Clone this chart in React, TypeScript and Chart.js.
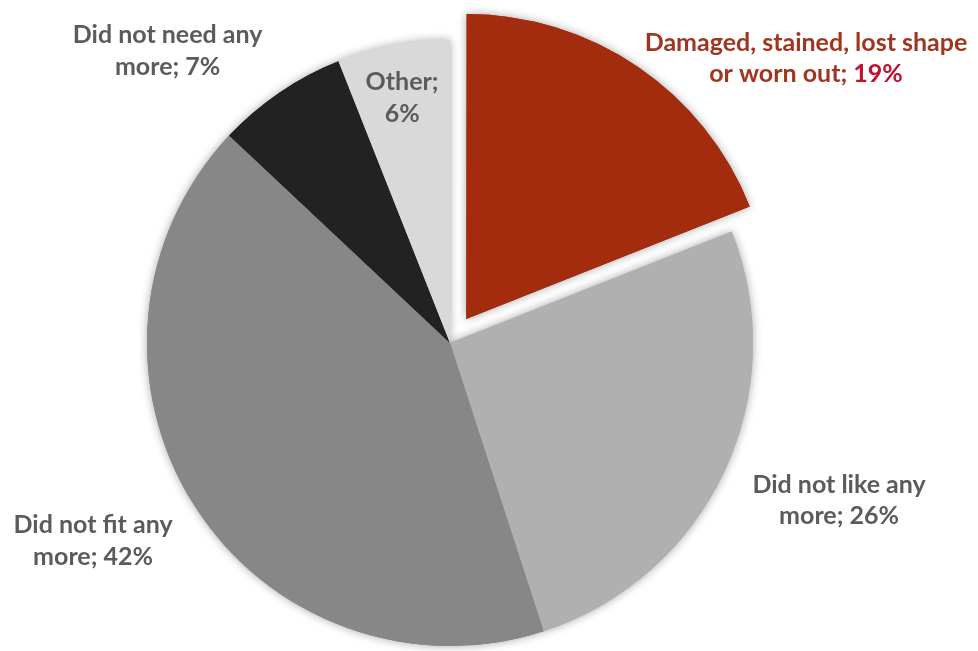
import React, { useEffect, useRef } from "react";
import { Chart, registerables } from "chart.js";

Chart.register(...registerables);

// ---- Data ----
const categories = [
  "Damaged, stained, lost shape or worn out",
  "Did not like any more",
  "Did not fit any more",
  "Did not need any more",
  "Other",
];
const values = [19, 26, 42, 7, 6];
// number of words on the first label line (rest goes to the second)
const labelWrap = [4, 4, 4, 4, 1];

// ---- Styles ----
const sliceColors = ["#A32B0E", "#B0B0B0", "#878787", "#222222", "#D9D9D9"];
// Chart.js 4 translates an arc by offset / 4 px
const sliceOffsets = [116, 0, 0, 0, 0];
const nameColors = ["#A0361F", "#5B5B5B", "#5B5B5B", "#5B5B5B", "#5B5B5B"];
const valueColors = ["#C0102A", "#5B5B5B", "#5B5B5B", "#5B5B5B", "#5B5B5B"];
// label block centre relative to pie centre, in units of the pie radius
const labelAnchors: [number, number][] = [
  [1.175, -0.942],
  [1.284, 0.517],
  [-1.178, 0.65],
  [-0.932, -0.967],
  [-0.158, -0.812],
];
const FONT_SIZE = 25;
const LINE_H = 31.5;
const FONT_FAMILY = "Lato, 'Open Sans', sans-serif";

const shadowPlugin = {
  id: "sliceShadow",
  beforeDatasetsDraw(chart: any) {
    const ctx = chart.ctx;
    ctx.save();
    ctx.shadowColor = "rgba(0,0,0,0.35)";
    ctx.shadowBlur = 10;
    chart.getDatasetMeta(0).data.forEach((arc: any) => arc.draw(ctx));
    ctx.restore();
  },
};

const labelPlugin = {
  id: "sliceLabels",
  afterDatasetsDraw(chart: any) {
    const ctx = chart.ctx;
    const meta = chart.getDatasetMeta(0);
    ctx.save();
    ctx.font = `bold ${FONT_SIZE}px ${FONT_FAMILY}`;
    ctx.textBaseline = "alphabetic";
    ctx.textAlign = "left";
    meta.data.forEach((arc: any, i: number) => {
      const { x, y, outerRadius } = arc.getProps(["x", "y", "outerRadius"], true);
      const cx = x + labelAnchors[i][0] * outerRadius;
      const cy = y + labelAnchors[i][1] * outerRadius;
      const words = `${categories[i]}; ${values[i]}%`.split(" ");
      const lines = [words.slice(0, labelWrap[i]), words.slice(labelWrap[i])];
      lines.forEach((lw, li) => {
        const lineCenter = cy + (li - (lines.length - 1) / 2) * LINE_H;
        const baseline = lineCenter + 0.36 * FONT_SIZE;
        const isLast = li === lines.length - 1;
        const nameText = isLast ? lw.slice(0, -1).join(" ") : lw.join(" ");
        const valText = isLast ? lw[lw.length - 1] : "";
        const namePart = nameText && valText ? nameText + " " : nameText;
        const w1 = ctx.measureText(namePart).width;
        const w2 = ctx.measureText(valText).width;
        const sx = cx - (w1 + w2) / 2;
        ctx.fillStyle = nameColors[i];
        ctx.fillText(namePart, sx, baseline);
        ctx.fillStyle = valueColors[i];
        ctx.fillText(valText, sx + w1, baseline);
      });
    });
    ctx.restore();
  },
};

export default function App() {
  const canvasRef = useRef<HTMLCanvasElement | null>(null);

  useEffect(() => {
    document.body.style.margin = "0";
    const canvas = canvasRef.current;
    if (!canvas) return;
    const chart = new Chart(canvas, {
      type: "pie",
      data: {
        labels: categories,
        datasets: [
          {
            data: values,
            backgroundColor: sliceColors,
            offset: sliceOffsets,
            hoverOffset: 0,
            borderWidth: 0,
            radius: 303,
          } as any,
        ],
      },
      options: {
        responsive: false,
        animation: false,
        radius: 303,
        layout: { padding: { left: 0, right: 78, top: 35, bottom: 0 } },
        plugins: {
          legend: { display: false },
          tooltip: { enabled: false },
        },
      } as any,
      plugins: [shadowPlugin, labelPlugin],
    });
    return () => chart.destroy();
  }, []);

  return (
    <div style={{ width: 978, height: 651, background: "#fff" }}>
      <canvas ref={canvasRef} width={978} height={651} />
    </div>
  );
}
